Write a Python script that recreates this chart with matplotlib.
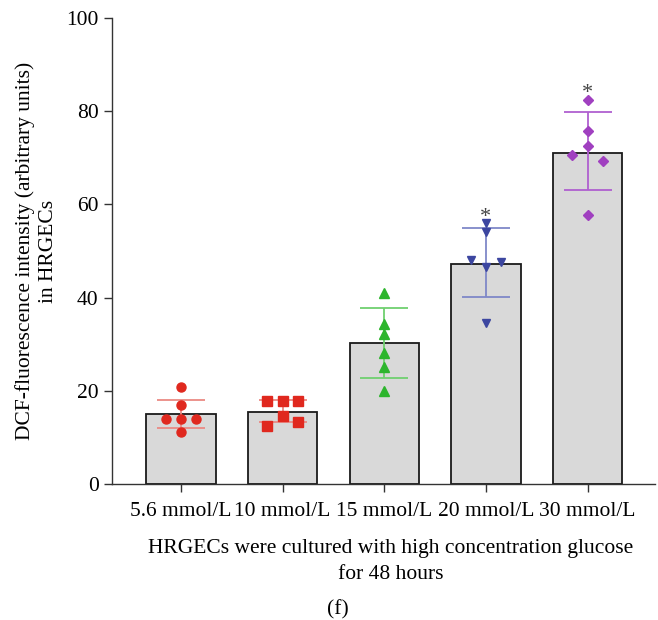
import numpy as np
import matplotlib.pyplot as plt

plt.rcParams['font.family'] = ['Liberation Serif', 'DejaVu Serif']

### data
groups = ['5.6 mmol/L', '10 mmol/L', '15 mmol/L', '20 mmol/L', '30 mmol/L']
means = [15.0, 15.5, 30.2, 47.2, 71.0]
err_lo = [12.0, 13.3, 22.8, 40.1, 63.0]
err_hi = [18.1, 18.0, 37.8, 55.0, 79.8]
points = [
    [20.9, 17.0, 14.0, 14.0, 14.0, 11.2],
    [17.95, 17.95, 17.95, 14.7, 13.4, 12.4],
    [41.1, 34.3, 32.3, 28.2, 25.2, 20.0],
    [56.1, 54.0, 48.1, 47.6, 46.5, 34.5],
    [82.5, 75.8, 72.5, 70.7, 69.4, 57.7],
]
signif = ['', '', '', '*', '*']

### styles
colors = ['#e0281e', '#e0281e', '#2db52d', '#3c46a0', '#a040c0']
err_colors = ['#ea8a84', '#ea8a84', '#6fd06f', '#7f88c8', '#b060d0']
markers = ['o', 's', '^', 'v', 'D']
msizes = [6.5, 7.5, 6.5, 6.0, 5.0]
jitter = [
    [0, 0, -0.15, 0, 0.15, 0],
    [-0.15, 0, 0.15, 0, 0.15, -0.15],
    [0, 0, 0, 0, 0, 0],
    [0, 0, -0.15, 0.15, 0, 0],
    [0, 0, 0, -0.15, 0.15, 0],
]

fig = plt.figure(figsize=(6.58, 6.2), dpi=100)
ax = fig.add_axes([0.170, 0.219, 0.825, 0.752])

x = np.arange(len(groups))
ax.bar(x, means, width=0.68, color='#d9d9d9', edgecolor='#1a1a1a', linewidth=1.3, zorder=1)

for i in range(len(groups)):
    ax.errorbar(x[i], means[i],
                yerr=[[means[i] - err_lo[i]], [err_hi[i] - means[i]]],
                fmt='none', ecolor=err_colors[i], elinewidth=1.3,
                capsize=17, capthick=1.3, zorder=2)
    ax.plot(x[i] + np.array(jitter[i]), points[i], linestyle='none',
            marker=markers[i], color=colors[i], markersize=msizes[i], zorder=3)
    if signif[i]:
        ax.text(x[i], max(points[i]) + 1.2, signif[i], ha='center', va='center',
                fontsize=16, color='#444444')

ax.set_xlim(-0.68, 4.66)
ax.set_ylim(0, 100)
ax.set_yticks([0, 20, 40, 60, 80, 100])
ax.set_xticks(x)
ax.set_xticklabels(groups)
ax.tick_params(axis='both', labelsize=15.5, length=6, width=1, color='#333333')
ax.tick_params(axis='x', pad=7)
for s in ['top', 'right']:
    ax.spines[s].set_visible(False)
for s in ['left', 'bottom']:
    ax.spines[s].set_color('#333333')
    ax.spines[s].set_linewidth(1)

ax.set_ylabel('DCF-fluorescence intensity (arbitrary units)\nin HRGECs', fontsize=15.5,
              labelpad=6, linespacing=1.3)
ax.set_xlabel('HRGECs were cultured with high concentration glucose\nfor 48 hours', fontsize=15.5,
              labelpad=13, linespacing=1.45)
ax.xaxis.label.set_x(0.514)
fig.text(0.513, 0.016, '(f)', ha='center', va='center', fontsize=15.5)

fig.savefig('out.png', dpi=100)
